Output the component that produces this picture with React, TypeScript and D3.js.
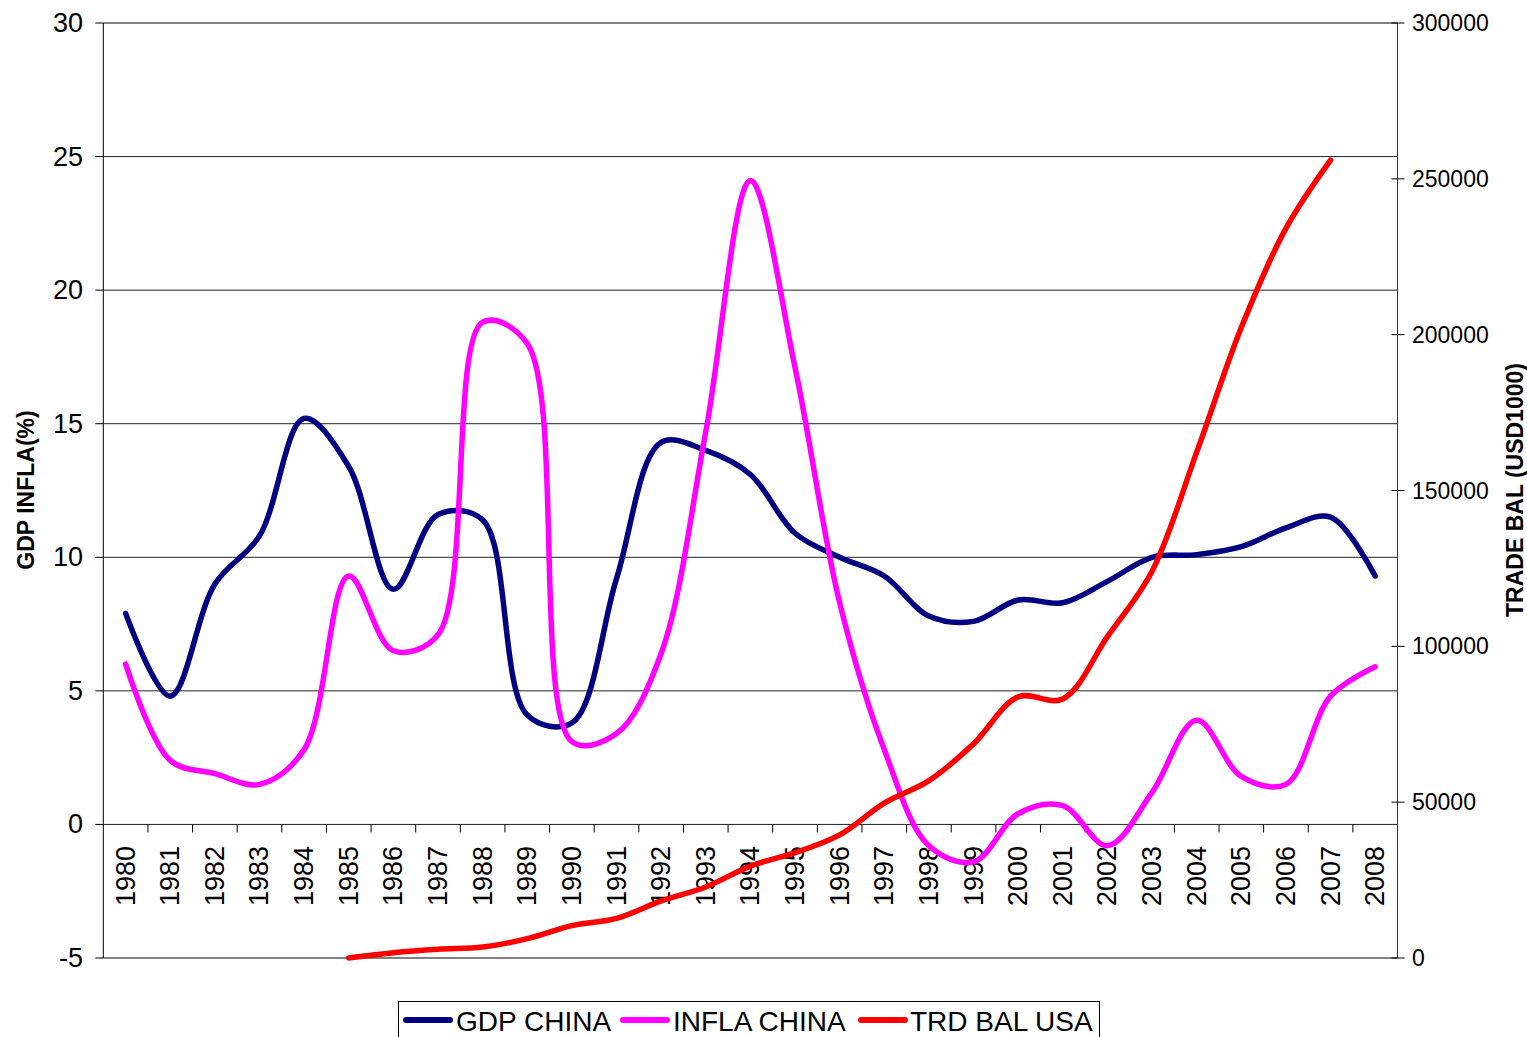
import React from "react";
import * as d3 from "d3";

const years = [
  "1980","1981","1982","1983","1984","1985","1986","1987","1988","1989",
  "1990","1991","1992","1993","1994","1995","1996","1997","1998","1999",
  "2000","2001","2002","2003","2004","2005","2006","2007","2008",
];
const gdpChina = [
  7.9, 4.8, 9.0, 10.8, 15.2, 13.4, 8.8, 11.6, 11.4, 4.1,
  3.8, 9.2, 14.3, 14.0, 13.1, 10.9, 10.0, 9.3, 7.8, 7.6,
  8.4, 8.3, 9.1, 10.0, 10.1, 10.4, 11.1, 11.5, 9.3,
];
const inflaChina = [
  6.0, 2.4, 1.9, 1.5, 2.8, 9.3, 6.5, 7.1, 18.8, 18.0,
  3.1, 3.4, 6.4, 14.7, 24.1, 17.1, 8.3, 2.8, -0.8, -1.4,
  0.4, 0.7, -0.8, 1.2, 3.9, 1.8, 1.5, 4.8, 5.9,
];
const trdBalUsa: (number | null)[] = [
  null, null, null, null, null, 6, 1700, 2800, 3500, 6200,
  10400, 12700, 18300, 22800, 29500, 33800, 39500, 49700, 56900, 68700,
  83800, 83100, 103100, 124100, 162300, 202300, 234100, 256000, null,
];
const leftTicks = [-5, 0, 5, 10, 15, 20, 25, 30];
const rightTicks = [0, 50000, 100000, 150000, 200000, 250000, 300000];
const seriesNames = ["GDP CHINA", "INFLA CHINA", "TRD BAL USA"];
const seriesColors = ["#000080", "#FF00FF", "#FF0000"];

const FONT = "'Liberation Sans', Arial, sans-serif";

export default function App() {
  const W = 1527, H = 1037;
  const left = 103.3, right = 1397.5, top = 23, bottom = 958;

  const x = d3.scaleBand<string>().domain(years).range([left, right]).padding(0);
  const cx = (i: number) => (x(years[i]) as number) + x.bandwidth() / 2;
  const yL = d3.scaleLinear().domain([-5, 30]).range([bottom, top]);
  const yR = d3.scaleLinear().domain([0, 300000]).range([bottom, top]);

  const curve = d3.curveCatmullRom.alpha(0.5);
  const pts = (arr: (number | null)[], scale: (v: number) => number) =>
    arr
      .map((v, i) => (v == null ? null : ([cx(i), scale(v)] as [number, number])))
      .filter((p): p is [number, number] => p !== null);
  const line = d3.line<[number, number]>().curve(curve);

  const gdpPath = line(pts(gdpChina, yL)) || "";
  const infPath = line(pts(inflaChina, yL)) || "";
  const trdPath = line(pts(trdBalUsa, yR)) || "";

  const y0 = yL(0);
  const boundaries = d3.range(1, years.length).map((i) => left + i * x.bandwidth());

  const legendItems = [
    { name: seriesNames[0], color: seriesColors[0], lx: 406, tx: 456 },
    { name: seriesNames[1], color: seriesColors[1], lx: 623, tx: 673 },
    { name: seriesNames[2], color: seriesColors[2], lx: 861, tx: 910 },
  ];

  return (
    <svg width={W} height={H} style={{ position: "absolute", left: 0, top: 0, background: "#fff" }}
      xmlns="http://www.w3.org/2000/svg">
      <rect x={0} y={0} width={W} height={H} fill="#fff" />
      {leftTicks.filter((t) => t !== -5 && t !== 30 && t !== 0).map((t) => (
        <line key={"g" + t} x1={left} x2={right} y1={yL(t)} y2={yL(t)} stroke="#222" strokeWidth={1} />
      ))}
      <line x1={left} x2={right} y1={top} y2={top} stroke="#808080" strokeWidth={2} />
      <line x1={left} x2={right} y1={bottom} y2={bottom} stroke="#808080" strokeWidth={2} />
      <line x1={left} x2={right} y1={y0} y2={y0} stroke="#222" strokeWidth={1} />
      {boundaries.map((bx, i) => (
        <line key={"xt" + i} x1={bx} x2={bx} y1={y0} y2={y0 + 8} stroke="#000" strokeWidth={1} />
      ))}
      <line x1={left} x2={left} y1={top} y2={bottom} stroke="#000" strokeWidth={1} />
      {leftTicks.map((t) => (
        <g key={"lt" + t}>
          <line x1={left - 8} x2={left} y1={yL(t)} y2={yL(t)} stroke="#000" strokeWidth={1} />
          <text x={83} y={yL(t)} textAnchor="end" dominantBaseline="central" fontSize={27} fontFamily={FONT} fill="#000">
            {t}
          </text>
        </g>
      ))}
      <line x1={right} x2={right} y1={top} y2={bottom} stroke="#333" strokeWidth={1} />
      {rightTicks.map((t) => (
        <g key={"rt" + t}>
          <line x1={right - 6} x2={right + 7} y1={yR(t)} y2={yR(t)} stroke="#000" strokeWidth={1} />
          <text x={1412} y={yR(t)} textAnchor="start" dominantBaseline="central" fontSize={23} fontFamily={FONT} fill="#000">
            {t}
          </text>
        </g>
      ))}
      {years.map((yr, i) => (
        <text key={"yr" + yr} transform={`translate(${cx(i)},846) rotate(-90)`} textAnchor="end"
          dominantBaseline="central" fontSize={27} fontFamily={FONT} fill="#000">
          {yr}
        </text>
      ))}
      <text transform="translate(26,490) rotate(-90)" textAnchor="middle" dominantBaseline="central"
        fontSize={23} fontWeight="bold" fontFamily={FONT} fill="#000">GDP INFLA(%)</text>
      <text transform="translate(1515,490) rotate(-90)" textAnchor="middle" dominantBaseline="central"
        fontSize={23} fontWeight="bold" fontFamily={FONT} fill="#000">TRADE BAL (USD1000)</text>
      <path d={gdpPath} fill="none" stroke={seriesColors[0]} strokeWidth={5.5} strokeLinejoin="round" strokeLinecap="round" />
      <path d={infPath} fill="none" stroke={seriesColors[1]} strokeWidth={5.5} strokeLinejoin="round" strokeLinecap="round" />
      <path d={trdPath} fill="none" stroke={seriesColors[2]} strokeWidth={5.5} strokeLinejoin="round" strokeLinecap="round" />
      <rect x={398.5} y={1001.5} width={701} height={50} fill="#fff" stroke="#000" strokeWidth={1} />
      {legendItems.map((it) => (
        <g key={it.name}>
          <line x1={it.lx} x2={it.lx + 44} y1={1020} y2={1020} stroke={it.color} strokeWidth={6} strokeLinecap="round" />
          <text x={it.tx} y={1031} fontSize={28} fontFamily={FONT} fill="#000">{it.name}</text>
        </g>
      ))}
    </svg>
  );
}
